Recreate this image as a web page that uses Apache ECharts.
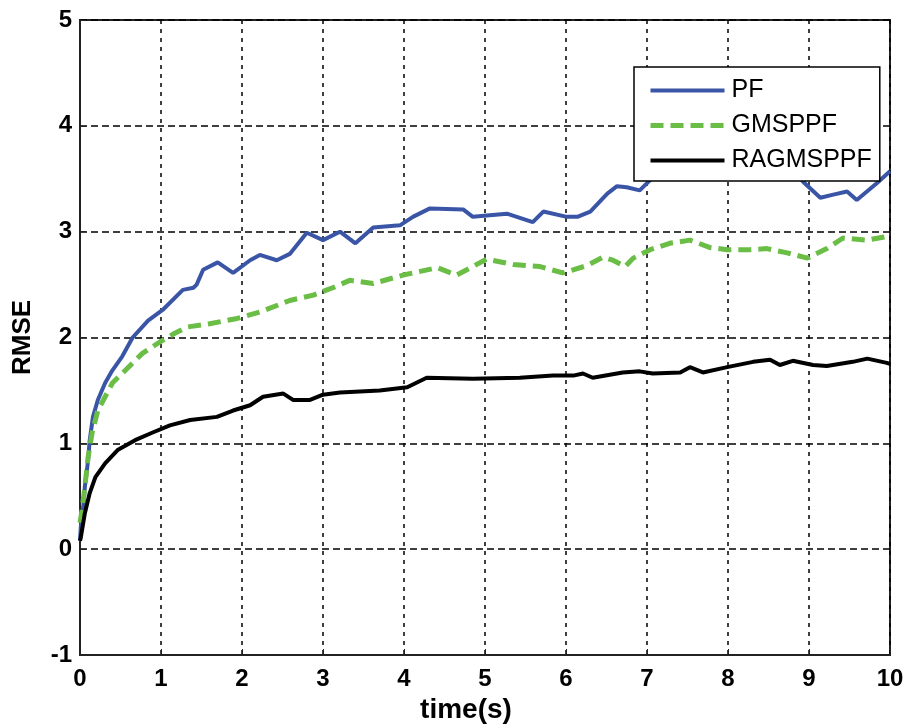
<!DOCTYPE html>
<html>
<head>
<meta charset="utf-8">
<script src="https://cdn.jsdelivr.net/npm/echarts@6/dist/echarts.min.js"></script>
<style>
  html, body { margin: 0; padding: 0; background: #fff; }
  #chart { width: 904px; height: 724px; }
</style>
</head>
<body>
<div id="chart"></div>
<script>
// values
const pfTime = [0, 0.01, 0.04, 0.06, 0.10, 0.12, 0.16, 0.22, 0.31, 0.40, 0.52, 0.65, 0.84, 1.02, 1.27, 1.40, 1.44, 1.52, 1.70, 1.89, 2.10, 2.22, 2.43, 2.59, 2.80, 3.00, 3.21, 3.40, 3.62, 3.95, 4.11, 4.32, 4.73, 4.85, 5.27, 5.59, 5.72, 6.01, 6.14, 6.30, 6.51, 6.63, 6.75, 6.91, 7.07, 7.22, 7.65, 8.15, 8.58, 8.83, 8.93, 9.14, 9.30, 9.47, 9.59, 9.84, 10];
const pfRmse = [0.08, 0.21, 0.40, 0.59, 0.84, 1.03, 1.25, 1.41, 1.57, 1.69, 1.82, 2.00, 2.16, 2.26, 2.45, 2.47, 2.50, 2.64, 2.71, 2.61, 2.73, 2.78, 2.73, 2.79, 2.99, 2.92, 3.00, 2.89, 3.04, 3.06, 3.14, 3.22, 3.21, 3.14, 3.17, 3.09, 3.19, 3.14, 3.14, 3.19, 3.36, 3.43, 3.42, 3.39, 3.51, 3.58, 3.62, 3.68, 3.63, 3.56, 3.47, 3.32, 3.35, 3.38, 3.30, 3.46, 3.57];

const gmTime = [0, 0.02, 0.06, 0.10, 0.15, 0.22, 0.31, 0.40, 0.56, 0.77, 0.99, 1.17, 1.33, 1.60, 1.94, 2.22, 2.59, 2.88, 3.12, 3.33, 3.62, 3.99, 4.41, 4.65, 5.02, 5.35, 5.68, 5.96, 6.26, 6.46, 6.58, 6.73, 6.83, 7.04, 7.28, 7.53, 7.78, 7.99, 8.27, 8.48, 8.73, 8.98, 9.22, 9.42, 9.72, 10];
const gmRmse = [0.25, 0.34, 0.59, 0.87, 1.10, 1.31, 1.44, 1.57, 1.69, 1.85, 1.96, 2.04, 2.10, 2.13, 2.18, 2.24, 2.35, 2.40, 2.47, 2.54, 2.51, 2.59, 2.66, 2.59, 2.74, 2.69, 2.67, 2.61, 2.68, 2.76, 2.73, 2.67, 2.75, 2.83, 2.89, 2.92, 2.85, 2.83, 2.83, 2.84, 2.80, 2.75, 2.84, 2.94, 2.92, 2.96];

const raTime = [0, 0.01, 0.06, 0.12, 0.19, 0.31, 0.47, 0.68, 0.89, 1.11, 1.36, 1.69, 1.89, 2.10, 2.26, 2.51, 2.63, 2.84, 3.00, 3.21, 3.70, 4.04, 4.28, 4.85, 5.43, 5.84, 6.09, 6.21, 6.33, 6.70, 6.91, 7.07, 7.41, 7.53, 7.69, 7.99, 8.31, 8.52, 8.64, 8.80, 9.05, 9.22, 9.54, 9.72, 9.96, 10];
const raRmse = [0.08, 0.11, 0.34, 0.53, 0.68, 0.81, 0.94, 1.03, 1.10, 1.17, 1.22, 1.25, 1.31, 1.36, 1.44, 1.47, 1.41, 1.41, 1.46, 1.48, 1.50, 1.53, 1.62, 1.61, 1.62, 1.64, 1.64, 1.66, 1.62, 1.67, 1.68, 1.66, 1.67, 1.72, 1.67, 1.72, 1.77, 1.79, 1.74, 1.78, 1.74, 1.73, 1.77, 1.80, 1.76, 1.75];

const seriesNames = ['PF', 'GMSPPF', 'RAGMSPPF'];

function pairs(t, v) { return t.map((x, i) => [x, v[i]]); }

const chart = echarts.init(document.getElementById('chart'));
const tickFont = { fontFamily: 'Liberation Sans, Arial, sans-serif', fontWeight: 'bold', fontSize: 24, color: '#000' };

chart.setOption({
    animation: false,
    backgroundColor: '#fff',
    grid: { left: 80, right: 14, top: 20, bottom: 69, containLabel: false, outerBoundsMode: 'none',
            show: true, borderColor: '#222', borderWidth: 2, backgroundColor: 'transparent' },
    legend: {
        orient: 'vertical',
        left: 634, top: 67,
        padding: [11, 8, 8, 14],
        itemGap: 10,
        itemWidth: 74, itemHeight: 14,
        backgroundColor: '#fff',
        borderColor: '#000', borderWidth: 1.5, borderRadius: 0,
        itemStyle: { opacity: 0 },
        lineStyle: { width: 4 },
        textStyle: { fontFamily: 'Liberation Sans, Arial, sans-serif', fontSize: 25, color: '#000', padding: [0, 0, 0, 2] },
        data: [
            { name: seriesNames[0] },
            { name: seriesNames[1], lineStyle: { width: 5 } },
            { name: seriesNames[2] }
        ]
    },
    xAxis: {
        type: 'value', min: 0, max: 10, interval: 1,
        name: 'time(s)', nameLocation: 'middle', nameGap: 40,
        nameTextStyle: Object.assign({}, tickFont, { fontSize: 28, padding: [0, 38, 0, 0] }),
        axisLine: { onZero: false, lineStyle: { color: '#222', width: 2 } },
        axisTick: { inside: true, length: 6, lineStyle: { color: '#222' } },
        axisLabel: Object.assign({ margin: 12 }, tickFont),
        splitLine: { show: true, lineStyle: { color: '#000', width: 1.5, type: [4, 5] } }
    },
    yAxis: {
        type: 'value', min: -1, max: 5, interval: 1,
        name: 'RMSE', nameLocation: 'middle', nameGap: 44,
        nameTextStyle: Object.assign({}, tickFont, { fontSize: 26 }),
        axisLine: { onZero: false, lineStyle: { color: '#222', width: 2 } },
        axisTick: { inside: true, length: 6, lineStyle: { color: '#222' } },
        axisLabel: Object.assign({ margin: 8 }, tickFont),
        splitLine: { show: true, lineStyle: { color: '#000', width: 1.5, type: [7, 4] } }
    },
    series: [
        { name: 'PF', type: 'line', symbol: 'none', data: pairs(pfTime, pfRmse),
          lineStyle: { color: '#3a55a6', width: 4 }, itemStyle: { color: '#3a55a6' } },
        { name: 'GMSPPF', type: 'line', symbol: 'none', data: pairs(gmTime, gmRmse),
          lineStyle: { color: '#6abd45', width: 5, type: [13, 7] }, itemStyle: { color: '#6abd45' } },
        { name: 'RAGMSPPF', type: 'line', symbol: 'none', data: pairs(raTime, raRmse),
          lineStyle: { color: '#000', width: 4 }, itemStyle: { color: '#000' } }
    ]
});
</script>
</body>
</html>
